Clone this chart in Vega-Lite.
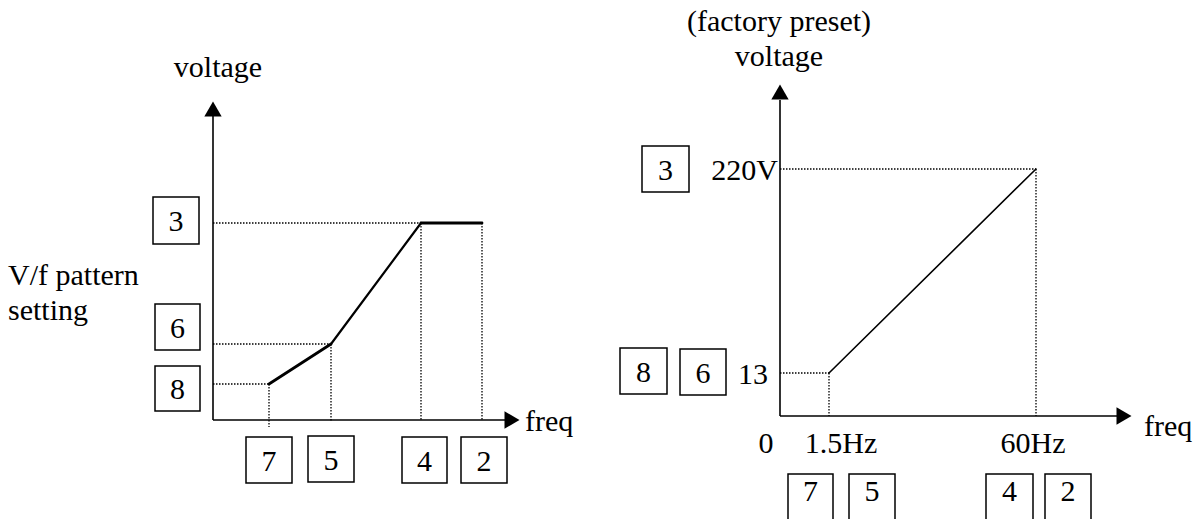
{
  "$schema": "https://vega.github.io/schema/vega-lite/v6.json",
  "width": 1196,
  "height": 519,
  "padding": 0,
  "autosize": {"type": "fit", "contains": "padding"},
  "background": "white",
  "config": {"view": {"stroke": null}},
  "datasets": {
    "axes": [
      {"x": 213, "y": 115, "x2": 213, "y2": 420},
      {"x": 213, "y": 420, "x2": 506, "y2": 420},
      {"x": 780, "y": 100, "x2": 780, "y2": 416},
      {"x": 780, "y": 416, "x2": 1117, "y2": 416}
    ],
    "dotted": [
      {"x": 213, "y": 223, "x2": 421, "y2": 223},
      {"x": 213, "y": 344, "x2": 331, "y2": 344},
      {"x": 213, "y": 384, "x2": 269, "y2": 384},
      {"x": 269, "y": 384, "x2": 269, "y2": 427},
      {"x": 331, "y": 344, "x2": 331, "y2": 422},
      {"x": 421, "y": 223, "x2": 421, "y2": 420},
      {"x": 482, "y": 223, "x2": 482, "y2": 420},
      {"x": 780, "y": 169, "x2": 1036, "y2": 169},
      {"x": 1036, "y": 169, "x2": 1036, "y2": 416},
      {"x": 780, "y": 373, "x2": 829, "y2": 373},
      {"x": 829, "y": 373, "x2": 829, "y2": 416}
    ],
    "curve": [
      {"x": 269, "y": 384, "x2": 331, "y2": 344, "seg": "heavy"},
      {"x": 331, "y": 344, "x2": 421, "y2": 223, "seg": "light"},
      {"x": 421, "y": 223, "x2": 482, "y2": 223, "seg": "heavy"},
      {"x": 829, "y": 373, "x2": 1036, "y2": 169, "seg": "medium"}
    ],
    "arrows": [
      {"x": 213, "y": 109, "dir": "up"},
      {"x": 512, "y": 420, "dir": "right"},
      {"x": 780, "y": 92, "dir": "up"},
      {"x": 1124, "y": 416, "dir": "right"}
    ],
    "boxes": [
      {"x": 153, "y": 197, "x2": 199, "y2": 244, "cx": 176, "cy": 231, "label": "3"},
      {"x": 155, "y": 304, "x2": 200, "y2": 350, "cx": 177.5, "cy": 337.5, "label": "6"},
      {"x": 155, "y": 366, "x2": 200, "y2": 411, "cx": 177.5, "cy": 399, "label": "8"},
      {"x": 246, "y": 437, "x2": 292, "y2": 483, "cx": 269, "cy": 470.5, "label": "7"},
      {"x": 308, "y": 436, "x2": 354, "y2": 482, "cx": 331, "cy": 469.5, "label": "5"},
      {"x": 402, "y": 437, "x2": 447, "y2": 483, "cx": 424.5, "cy": 470.5, "label": "4"},
      {"x": 461, "y": 437, "x2": 507, "y2": 483, "cx": 484, "cy": 470.5, "label": "2"},
      {"x": 642, "y": 146, "x2": 689, "y2": 192, "cx": 665.5, "cy": 179.5, "label": "3"},
      {"x": 620, "y": 348, "x2": 667, "y2": 394, "cx": 643.5, "cy": 381.5, "label": "8"},
      {"x": 680, "y": 349, "x2": 726, "y2": 395, "cx": 703, "cy": 383, "label": "6"},
      {"x": 788, "y": 474, "x2": 833, "y2": 530, "cx": 810.5, "cy": 501, "label": "7"},
      {"x": 849, "y": 474, "x2": 895, "y2": 530, "cx": 872, "cy": 501, "label": "5"},
      {"x": 986, "y": 474, "x2": 1033, "y2": 530, "cx": 1009.5, "cy": 501, "label": "4"},
      {"x": 1045, "y": 474, "x2": 1091, "y2": 530, "cx": 1068, "cy": 501, "label": "2"}
    ],
    "labelsLeft": [
      {"x": 8, "y": 285, "text": "V/f pattern"},
      {"x": 8, "y": 320, "text": "setting"},
      {"x": 525, "y": 431, "text": "freq"},
      {"x": 1144, "y": 436, "text": "freq"}
    ],
    "labelsCenter": [
      {"x": 218, "y": 77, "text": "voltage"},
      {"x": 779, "y": 31, "text": "(factory preset)"},
      {"x": 779, "y": 66, "text": "voltage"},
      {"x": 766, "y": 453, "text": "0"},
      {"x": 841, "y": 453, "text": "1.5Hz"},
      {"x": 1033, "y": 453, "text": "60Hz"}
    ],
    "labelsRight": [
      {"x": 778, "y": 180, "text": "220V"},
      {"x": 768, "y": 384, "text": "13"}
    ]
  },
  "layer": [
    {
      "data": {"name": "dotted"},
      "mark": {"type": "rule", "strokeDash": [1.5, 1.5], "strokeWidth": 1.3, "color": "black"},
      "encoding": {
        "x": {"field": "x", "type": "quantitative", "axis": null, "scale": {"domain": [0, 1196], "nice": false, "zero": false}},
        "y": {"field": "y", "type": "quantitative", "axis": null, "scale": {"domain": [0, 519], "nice": false, "zero": false, "reverse": true}},
        "x2": {"field": "x2"},
        "y2": {"field": "y2"}
      }
    },
    {
      "data": {"name": "axes"},
      "mark": {"type": "rule", "strokeWidth": 1.6, "color": "black"},
      "encoding": {
        "x": {"field": "x", "type": "quantitative"},
        "y": {"field": "y", "type": "quantitative"},
        "x2": {"field": "x2"},
        "y2": {"field": "y2"}
      }
    },
    {
      "data": {"name": "curve"},
      "mark": {"type": "rule", "color": "black", "strokeCap": "round"},
      "encoding": {
        "x": {"field": "x", "type": "quantitative"},
        "y": {"field": "y", "type": "quantitative"},
        "x2": {"field": "x2"},
        "y2": {"field": "y2"},
        "strokeWidth": {"field": "seg", "type": "nominal", "legend": null, "scale": {"domain": ["heavy", "light", "medium"], "range": [2.8, 1.6, 2.4]}}
      }
    },
    {
      "data": {"name": "arrows"},
      "mark": {"type": "point", "filled": true, "color": "black", "opacity": 1, "size": 300},
      "encoding": {
        "x": {"field": "x", "type": "quantitative"},
        "y": {"field": "y", "type": "quantitative"},
        "shape": {"field": "dir", "type": "nominal", "legend": null, "scale": {"domain": ["up", "right"], "range": ["triangle-up", "triangle-right"]}}
      }
    },
    {
      "data": {"name": "boxes"},
      "mark": {"type": "rect", "fill": "white", "stroke": "black", "strokeWidth": 1.5, "clip": true},
      "encoding": {
        "x": {"field": "x", "type": "quantitative"},
        "y": {"field": "y", "type": "quantitative"},
        "x2": {"field": "x2"},
        "y2": {"field": "y2"}
      }
    },
    {
      "data": {"name": "boxes"},
      "mark": {"type": "text", "font": "Liberation Serif", "fontSize": 30, "align": "center", "baseline": "alphabetic", "color": "black", "clip": true},
      "encoding": {
        "x": {"field": "cx", "type": "quantitative"},
        "y": {"field": "cy", "type": "quantitative"},
        "text": {"field": "label"}
      }
    },
    {
      "data": {"name": "labelsLeft"},
      "mark": {"type": "text", "font": "Liberation Serif", "fontSize": 30, "align": "left", "baseline": "alphabetic", "color": "black"},
      "encoding": {
        "x": {"field": "x", "type": "quantitative"},
        "y": {"field": "y", "type": "quantitative"},
        "text": {"field": "text"}
      }
    },
    {
      "data": {"name": "labelsCenter"},
      "mark": {"type": "text", "font": "Liberation Serif", "fontSize": 30, "align": "center", "baseline": "alphabetic", "color": "black"},
      "encoding": {
        "x": {"field": "x", "type": "quantitative"},
        "y": {"field": "y", "type": "quantitative"},
        "text": {"field": "text"}
      }
    },
    {
      "data": {"name": "labelsRight"},
      "mark": {"type": "text", "font": "Liberation Serif", "fontSize": 30, "align": "right", "baseline": "alphabetic", "color": "black"},
      "encoding": {
        "x": {"field": "x", "type": "quantitative"},
        "y": {"field": "y", "type": "quantitative"},
        "text": {"field": "text"}
      }
    }
  ]
}
